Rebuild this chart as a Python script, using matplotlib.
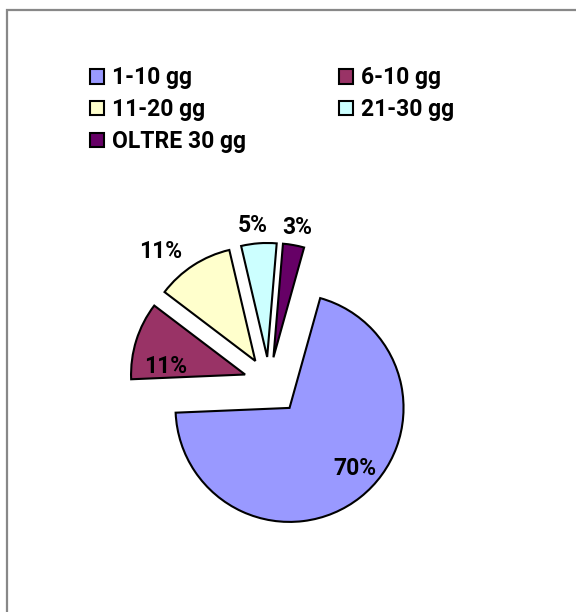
import matplotlib.pyplot as plt
from matplotlib.patches import Patch, Rectangle
import numpy as np

labels = ["1-10 gg", "6-10 gg", "11-20 gg", "21-30 gg", "OLTRE 30 gg"]
values = [70, 11, 11, 5, 3]
colors = ["#9999FF", "#993366", "#FFFFCC", "#CCFFFF", "#660066"]
explode = [0.29, 0.22, 0.22, 0.22, 0.22]
# distance of each percent label from its wedge tip, in radii
label_dist = [0.78, 0.7, 1.27, 1.16, 1.16]
# small angular nudge of each label, degrees
label_turn = [9, 12, 8, 2, 0]

plt.rcParams["font.family"] = ["Roboto", "DejaVu Sans"]
plt.rcParams["font.weight"] = "bold"

fig = plt.figure(figsize=(5.76, 6.12), dpi=100)

# chart area border (Excel style), runs off the right and bottom
fig.patches.append(Rectangle((7 / 576, -0.1), 1.2, 1 - 10 / 612 + 0.1,
                             transform=fig.transFigure, fill=False,
                             edgecolor="#888888", linewidth=1.6))

ax = fig.add_axes([41 / 576, 2 / 612, 456 / 576, 456 / 612])
wedges, _ = ax.pie(values, colors=colors, explode=explode,
                   startangle=74.4, counterclock=False,
                   wedgeprops=dict(edgecolor="black", linewidth=1.5))
ax.set_xlim(-2, 2)
ax.set_ylim(-2, 2)
ax.axis("off")

total = sum(values)
for w, v, d, t in zip(wedges, values, label_dist, label_turn):
    mid = np.deg2rad((w.theta1 + w.theta2) / 2 + t)
    cx, cy = w.center
    ax.text(cx + d * w.r * np.cos(mid), cy + d * w.r * np.sin(mid),
            f"{round(100 * v / total)}%", ha="center", va="center",
            fontsize=16.5, fontweight="bold")

handles = [Patch(facecolor=c, edgecolor="black", linewidth=1.5) for c in colors]
order = [0, 2, 4, 1, 3]
fig.legend([handles[i] for i in order], [labels[i] for i in order],
           ncol=2, loc="upper left", bbox_to_anchor=(79 / 576, 1 - 55 / 612),
           frameon=False, handlelength=0.6, handleheight=0.6,
           handletextpad=0.35, columnspacing=4.05, labelspacing=0.38,
           borderpad=0, prop=dict(weight="bold", size=16.5))

fig.savefig("out.png", dpi=100)
